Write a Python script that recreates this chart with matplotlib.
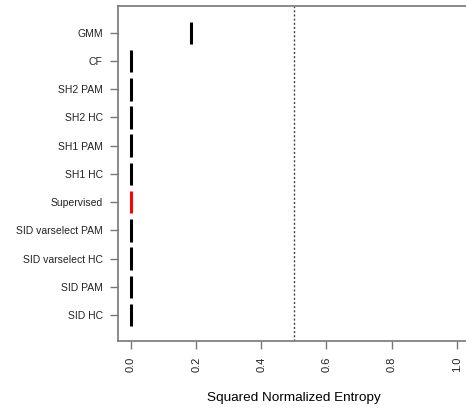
import numpy as np
import matplotlib
matplotlib.use("Agg")
import matplotlib.pyplot as plt

plt.rcParams['font.family'] = ['Liberation Sans', 'DejaVu Sans']

# methods, bottom to top
methods = ["SID HC", "SID PAM", "SID varselect HC", "SID varselect PAM",
           "Supervised", "SH1 HC", "SH1 PAM", "SH2 HC", "SH2 PAM", "CF", "GMM"]
entropy = [0.0, 0.0, 0.0, 0.0, 0.0, 0.0, 0.0, 0.0, 0.0, 0.0, 0.184]
colors = ["black"] * 4 + ["red"] + ["black"] * 6
threshold = 0.5

fig = plt.figure(figsize=(4.66, 4.17), dpi=100)
ax = fig.add_axes([0.2532, 0.1823, 0.755, 0.8033])

ypos = np.arange(1, len(methods) + 1)
ax.vlines(entropy, ypos - 0.4, ypos + 0.4, colors=colors, linewidth=2.2)
ax.axvline(threshold, color="#444444", linestyle=(0, (1.5, 1.5)), linewidth=1.0)

ax.set_xlim(-0.04, 1.04)
ax.set_ylim(0.08, 11.95)
ax.set_yticks(ypos)
ax.set_yticklabels(methods, fontsize=7.5)
ticks = np.arange(0, 1.01, 0.2)
ax.set_xticks(ticks)
ax.set_xticklabels(["%.1f" % v for v in ticks], rotation=90, fontsize=8)
ax.set_xlabel("Squared Normalized Entropy", fontsize=9.7, labelpad=15)

for side in ax.spines:
    ax.spines[side].set_color("#777777")
    ax.spines[side].set_linewidth(1.2)
ax.tick_params(axis="both", color="#777777", width=1.0, length=6, pad=5,
               labelcolor="#222222")

fig.savefig("out.png", dpi=100)
